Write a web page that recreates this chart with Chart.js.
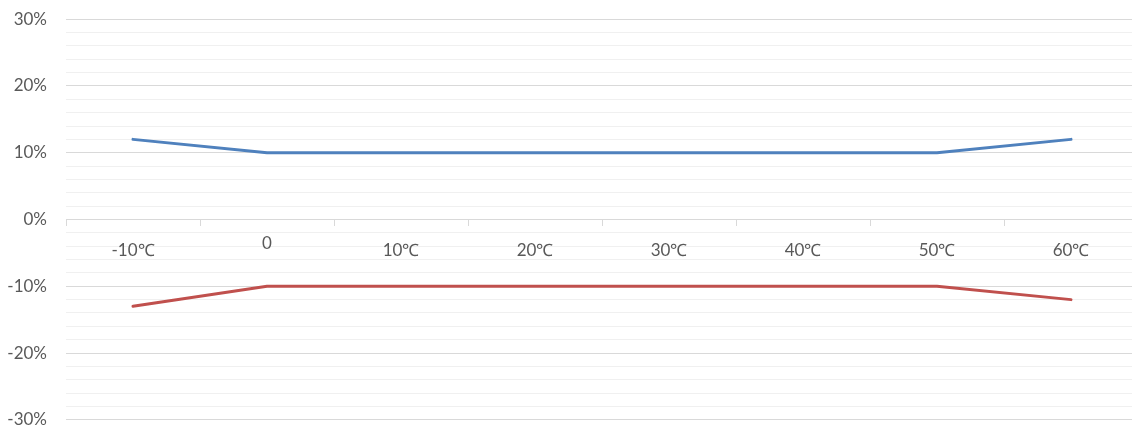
<!DOCTYPE html>
<html>
<head>
<meta charset="utf-8">
<script src="https://cdn.jsdelivr.net/npm/chart.js@4/dist/chart.umd.min.js"></script>
<style>
    html, body { margin: 0; padding: 0; background: #fff; overflow: hidden; }
    /* a bit larger than the window so the plot area lands where the original has it */
    #wrap { width: 1138px; height: 459px; margin-top: -10px; position: relative; }
</style>
</head>
<body>
<div id="wrap"><canvas id="myChart"></canvas></div>
<script>
// temperature categories
const categories = ['-10℃', '0', '10℃', '20℃', '30℃', '40℃', '50℃', '60℃'];
// series values, in percent
const upperValues = [12, 10, 10, 10, 10, 10, 10, 12];
const lowerValues = [-13, -10, -10, -10, -10, -10, -10, -12];
// y axis range
const yMin = -30;
const yMax = 30;
const yStep = 2;

const labelColor = '#595959';

const ctx = document.getElementById('myChart');
const myLineChart = new Chart(ctx.getContext('2d'), {
    type: 'line',
    data: {
        labels: categories,
        datasets: [{
            label: 'upper',
            data: upperValues,
            borderColor: '#4F81BD',
            borderWidth: 3,
            pointRadius: 0,
            tension: 0,
            borderCapStyle: 'round',
            borderJoinStyle: 'round'
        }, {
            label: 'lower',
            data: lowerValues,
            borderColor: '#C0504D',
            borderWidth: 3,
            pointRadius: 0,
            tension: 0,
            borderCapStyle: 'round',
            borderJoinStyle: 'round'
        }]
    },
    options: {
        responsive: true,
        maintainAspectRatio: false,
        animation: false,
        layout: {
            padding: { top: 19, bottom: 11, left: 0, right: 0 }
        },
        plugins: {
            legend: { display: false },
            tooltip: { enabled: false }
        },
        scales: {
            x: {
                position: { y: 0 },
                offset: true,
                grid: {
                    offset: true,
                    drawOnChartArea: false,
                    drawTicks: true,
                    tickLength: 6,
                    color: '#d9d9d9'
                },
                border: { display: true, color: '#d9d9d9' },
                ticks: {
                    color: labelColor,
                    padding: 15,
                    maxRotation: 0,
                    autoSkip: false,
                    // the plain "0" label sits a bit higher in the original
                    font: (c) => ({
                        family: 'Lato',
                        size: 17,
                        lineHeight: c.tick && c.tick.label === '0' ? '7px' : 1.2
                    })
                }
            },
            y: {
                min: yMin,
                max: yMax,
                afterFit: (s) => { s.width = 66; },
                border: { display: false },
                grid: {
                    drawTicks: false,
                    color: (c) => (c.tick && Math.round(c.tick.value) % 10 === 0) ? '#d9d9d9' : '#f0f0f0'
                },
                ticks: {
                    stepSize: yStep,
                    autoSkip: false,
                    padding: 19,
                    color: labelColor,
                    font: { family: 'Lato', size: 17 },
                    callback: (v) => (Math.round(v) % 10 === 0) ? Math.round(v) + '%' : ''
                }
            }
        }
    }
});
</script>
</body>
</html>
